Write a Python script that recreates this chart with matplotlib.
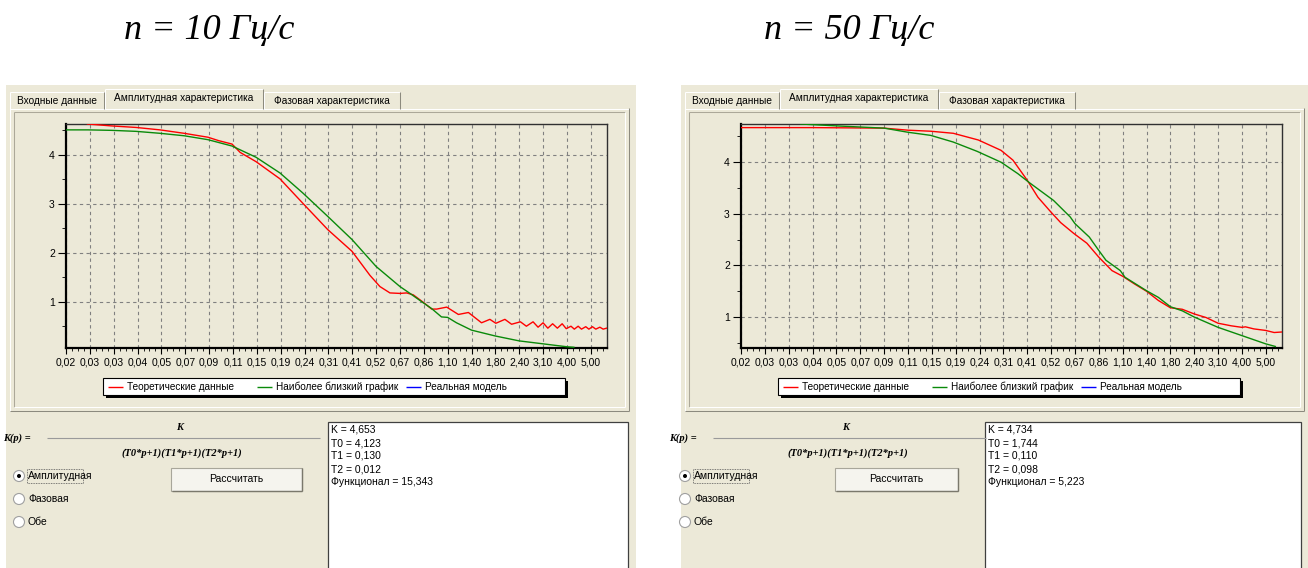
import matplotlib.pyplot as plt
from matplotlib.patches import Rectangle, Circle
from matplotlib.ticker import FixedLocator, MultipleLocator

plt.rcParams['font.family'] = ['Liberation Sans', 'DejaVu Sans']

W, H = 1308, 568
BEIGE = '#ECE9D8'

# x axis: equally spaced (log) frequency ticks
tick_labels = ['0,02', '0,03', '0,03', '0,04', '0,05', '0,07', '0,09', '0,11', '0,15', '0,19',
               '0,24', '0,31', '0,41', '0,52', '0,67', '0,86', '1,10', '1,40', '1,80', '2,40',
               '3,10', '4,00', '5,00']
series_names = ['Теоретические данные', 'Наиболее близкий график', 'Реальная модель']
series_colors = ['#FF0000', '#0A8A0A', '#0000FF']
tab_labels = ['Входные данные', 'Амплитудная характеристика', 'Фазовая характеристика']
radio_labels = ['Амплитудная', 'Фазовая', 'Обе']

# n = 10 Hz/s  (x = tick index)
theory10_x = [0.9, 1.93, 2.93, 3.94, 4.95, 5.95, 6.4, 6.96, 7.3, 7.97, 8.97, 9.93, 10.98, 11.99,
              12.74, 13.16, 13.58, 14.0, 14.28, 14.56, 15.0, 15.33, 15.54, 15.96, 16.45, 16.87,
              17.42, 17.77, 18.02, 18.4, 18.68, 19.05, 19.3, 19.58, 19.79, 20.0, 20.2, 20.4,
              20.6, 20.8, 20.97, 21.17, 21.31, 21.47, 21.61, 21.79, 21.92, 22.07, 22.21, 22.38,
              22.52, 22.66]
theory10_y = [4.63, 4.59, 4.56, 4.51, 4.44, 4.36, 4.29, 4.22, 4.05, 3.86, 3.51, 3.01, 2.47, 2.03,
              1.54, 1.31, 1.18, 1.17, 1.18, 1.14, 0.98, 0.85, 0.85, 0.89, 0.74, 0.78,
              0.57, 0.64, 0.56, 0.64, 0.54, 0.59, 0.50, 0.59, 0.48, 0.57, 0.46, 0.55,
              0.46, 0.55, 0.45, 0.50, 0.44, 0.50, 0.44, 0.49, 0.44, 0.49, 0.44, 0.48,
              0.44, 0.46]
fit10_x = [0.0, 0.92, 1.93, 2.93, 3.94, 4.95, 5.95, 6.96, 7.97, 8.97, 9.93, 10.98, 11.99, 13.0,
           14.0, 14.42, 15.0, 15.33, 15.74, 16.0, 16.37, 17.0, 18.0, 19.0, 20.0, 21.0, 21.29]
fit10_y = [4.51, 4.51, 4.50, 4.48, 4.44, 4.39, 4.31, 4.18, 3.95, 3.63, 3.22, 2.74, 2.27, 1.72,
           1.31, 1.17, 0.97, 0.86, 0.69, 0.68, 0.57, 0.42, 0.30, 0.20, 0.14, 0.08, 0.07]

# n = 50 Hz/s
theory50_x = [0.0, 3.0, 6.0, 7.0, 7.95, 8.9, 9.95, 10.9, 11.4, 12.0, 12.45, 13.0, 13.4, 13.95,
              14.5, 15.0, 15.55, 16.0, 16.5, 17.0, 17.5, 18.0, 18.5, 19.0, 19.5, 20.0, 20.55,
              21.0, 21.15, 21.5, 22.0, 22.35, 22.67]
theory50_y = [4.67, 4.67, 4.66, 4.62, 4.60, 4.56, 4.43, 4.23, 4.04, 3.65, 3.32, 3.03, 2.83, 2.62,
              2.43, 2.16, 1.90, 1.79, 1.64, 1.50, 1.32, 1.18, 1.15, 1.06, 0.99, 0.88, 0.83,
              0.80, 0.81, 0.77, 0.74, 0.70, 0.71]
fit50_x = [2.5, 4.15, 6.0, 7.0, 7.95, 8.9, 9.9, 10.9, 11.6, 12.1, 13.1, 13.8, 14.0, 14.6, 15.0,
           15.3, 15.9, 16.1, 17.0, 17.5, 18.0, 18.5, 19.0, 20.0, 21.0, 22.0, 22.4]
fit50_y = [4.74, 4.70, 4.66, 4.58, 4.52, 4.39, 4.21, 4.00, 3.78, 3.60, 3.26, 2.94, 2.81, 2.55, 2.29,
           2.10, 1.90, 1.77, 1.51, 1.38, 1.20, 1.12, 1.00, 0.80, 0.64, 0.48, 0.43]

params10 = ['K = 4,653', 'T0 = 4,123', 'T1 = 0,130', 'T2 = 0,012', 'Функционал = 15,343']
params50 = ['K = 4,734', 'T0 = 1,744', 'T1 = 0,110', 'T2 = 0,098', 'Функционал = 5,223']

fig = plt.figure(figsize=(W / 100, H / 100), dpi=100, facecolor='white')
bg = fig.add_axes([0, 0, 1, 1], zorder=0)
bg.set_xlim(0, W)
bg.set_ylim(H, 0)
bg.axis('off')


def hline(x0, x1, y, c, lw=0.75):
    bg.plot([x0, x1], [y, y], color=c, lw=lw, solid_capstyle='butt')


def vline(x, y0, y1, c, lw=0.75):
    bg.plot([x, x], [y0, y1], color=c, lw=lw, solid_capstyle='butt')


def tab(x0, x1, ytop, label):
    bg.add_patch(Rectangle((x0, ytop), x1 - x0, 109 - ytop, fc=BEIGE, ec='none', zorder=2))
    vline(x0, ytop, 109, 'white')
    hline(x0, x1, ytop, 'white')
    vline(x1, ytop, 109, '#8C8A7E')
    bg.text((x0 + x1) / 2, ytop + 9, label, fontsize=7.3, ha='center', va='center', zorder=3)


def draw_window(ox, bx, btn, tb, title, tx, xs, params):
    # window body
    bg.add_patch(Rectangle((ox + 6, 85), 630, H - 85, fc=BEIGE, ec='none'))
    bg.text(tx, 39, title, fontsize=26, family='Liberation Serif', style='italic', ha='left',
            va='baseline')

    # tab body
    hline(ox + 10, ox + 629, 108.5, 'white')
    vline(ox + 10, 108, 411, 'white')
    vline(ox + 629, 108, 411, '#8C8A7E')
    hline(ox + 10, ox + 629, 411, '#8C8A7E')
    hline(ox + 14, ox + 625, 112, '#ACA899')
    vline(ox + 14, 112, 407, '#ACA899')
    vline(ox + 625, 112, 407, 'white')
    hline(ox + 14, ox + 625, 407, 'white')

    tab(ox + 10, ox + 104, 92, tab_labels[0])
    tab(ox + 264, ox + 400, 92, tab_labels[2])
    tab(ox + 105, ox + 263, 89, tab_labels[1])

    # chart
    ax = fig.add_axes([(ox + 66) / W, 1 - 348 / H, 541 / W, 224 / H], zorder=1)
    ax.set_facecolor(BEIGE)
    ax.plot(xs[0], xs[1], color=series_colors[0], lw=1.0, zorder=3)
    ax.plot(xs[2], xs[3], color=series_colors[1], lw=1.0, zorder=3)
    ax.plot([], [], color=series_colors[2], lw=1.0)
    ax.set_xlim(0, 22.68)
    ax.set_ylim(xs[4], xs[5])
    ax.xaxis.set_major_locator(FixedLocator(range(len(tick_labels))))
    ax.set_xticklabels(tick_labels)
    ax.xaxis.set_minor_locator(MultipleLocator(0.25))
    ax.yaxis.set_major_locator(FixedLocator([1, 2, 3, 4]))
    ax.set_yticklabels(['1', '2', '3', '4'])
    ax.yaxis.set_minor_locator(FixedLocator([0.5, 1.5, 2.5, 3.5, 4.5]))
    ax.tick_params(axis='x', which='major', length=4, width=0.8, pad=3, labelsize=7.5)
    ax.tick_params(axis='x', which='minor', length=2.5, width=0.6)
    ax.tick_params(axis='y', which='major', length=6, width=0.8, pad=2, labelsize=7.5)
    ax.tick_params(axis='y', which='minor', length=3, width=0.6)
    ax.grid(True, which='major', color='#808080', ls=(0, (3, 3)), lw=0.8)
    for s in ['left', 'bottom']:
        ax.spines[s].set_linewidth(1.6)
        ax.spines[s].set_color('black')
    for s in ['top', 'right']:
        ax.spines[s].set_linewidth(1.0)
        ax.spines[s].set_color('#303030')

    # legend
    bg.add_patch(Rectangle((ox + 106, 381), 462, 17, fc='black', ec='none'))
    bg.add_patch(Rectangle((ox + 103, 378), 462, 17, fc='white', ec='black', lw=0.8))
    lx = [(108, 127), (257, 276), (406, 425)]
    for (l0, t0), name, c in zip(lx, series_names, series_colors):
        hline(ox + l0, ox + l0 + 15, 386.5, c, lw=1.0)
        bg.text(ox + t0, 387, name, fontsize=7.2, va='center', ha='left')

    # transfer function
    bg.text(bx + 3, 438, 'K(p) =', fontsize=7.5, family='Liberation Serif', style='italic',
            weight='bold', va='center')
    hline(bx + 47, bx + 320, 437.5, '#9A9A9A', lw=0.8)
    bg.text(bx + 180, 428, 'K', fontsize=7.5, family='Liberation Serif', style='italic',
            weight='bold', ha='center', va='center')
    bg.text(bx + 182, 453, '(T0*p+1)(T1*p+1)(T2*p+1)', fontsize=7.5, family='Liberation Serif',
            style='italic', weight='bold', ha='center', va='center')

    # radio buttons
    for i, lab in enumerate(radio_labels):
        cy = 476 + 23 * i
        bg.add_patch(Circle((bx + 19, cy), 5.5, fc='white', ec='#A0A0A0', lw=0.8))
        if i == 0:
            bg.add_patch(Circle((bx + 19, cy), 2, fc='black', ec='none'))
        bg.text(bx + 28, cy, lab, fontsize=7.5, va='center', ha='left')
    bg.add_patch(Rectangle((bx + 27, 469), 56, 14, fc='none', ec='#555555', lw=0.6,
                           ls=(0, (1, 1))))

    # button
    bg.add_patch(Rectangle((btn[0], 468), btn[1] - btn[0], 23, fc='#F5F4EE', ec='#A8A69A',
                           lw=0.8))
    hline(btn[0] + 1, btn[1], 491, '#7A786C', lw=1.0)
    vline(btn[1], 468, 491, '#7A786C', lw=1.0)
    bg.text((btn[0] + btn[1]) / 2, 479.5, 'Рассчитать', fontsize=7.5, ha='center', va='center')

    # results box
    bg.add_patch(Rectangle((tb[0], 422), tb[1] - tb[0], H - 421, fc='white', ec='#404040',
                           lw=0.9))
    for i, p in enumerate(params):
        bg.text(tb[0] + 3, 430 + 13 * i, p, fontsize=7.5, va='center', ha='left',
                family=['Liberation Sans Narrow', 'Liberation Sans'])


draw_window(0, 0, (171, 302), (328, 628), 'n = 10 Гц/с', 124,
            [theory10_x, theory10_y, fit10_x, fit10_y, 0.055, 4.63], params10)
draw_window(675, 666, (835, 958), (985, 1301), 'n = 50 Гц/с', 764,
            [theory50_x, theory50_y, fit50_x, fit50_y, 0.40, 4.74], params50)

fig.savefig('out.png', dpi=100, facecolor='white')
